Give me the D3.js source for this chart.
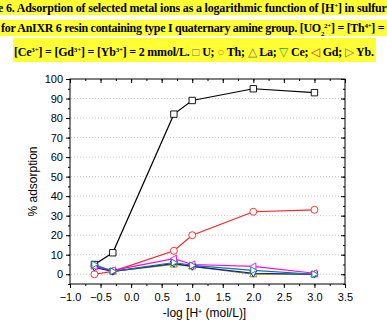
<!DOCTYPE html>
<html>
<head>
<meta charset="utf-8">
<script src="https://cdn.jsdelivr.net/npm/d3@7"></script>
<style>
  body { margin: 0; background: #fff; }
  svg { display: block; }
</style>
</head>
<body>
<div id="container"></div>
<script>
const width = 387,
      height = 322,
      margin = { top: 79, bottom: 38, left: 70, right: 42 };

// data
const logH = [-0.6, -0.3, 0.7, 1.0, 2.0, 3.0];
const seriesNames = ["U", "Th", "La", "Ce", "Gd", "Yb"];
const U  = [5, 11, 82, 89, 95, 93];
const Th = [0, 1.5, 12, 20, 32, 33];
const La = [4, 1.5, 5, 4, 0, 0];
const Ce = [3.5, 1.5, 5.5, 4, 0.5, 0];
const Gd = [4, 2, 8, 5, 4, 0.5];
const Yb = [5, 1.5, 6, 4.5, 2, 0];
const xTicks = [-1.0, -0.5, 0.0, 0.5, 1.0, 1.5, 2.0, 2.5, 3.0, 3.5];
const yTicks = [0, 10, 20, 30, 40, 50, 60, 70, 80, 90, 100];

const series = [
  { name: "U",  values: U,  color: "#000000", symbol: "square" },
  { name: "Th", values: Th, color: "#ff2020", symbol: "circle" },
  { name: "La", values: La, color: "#808000", symbol: "up" },
  { name: "Ce", values: Ce, color: "#1010c0", symbol: "down" },
  { name: "Gd", values: Gd, color: "#ff00ff", symbol: "left" },
  { name: "Yb", values: Yb, color: "#008080", symbol: "right" }
];

const svg = d3.select("#container").append("svg")
    .attr("width", width)
    .attr("height", height);

// caption lines with yellow highlight
const caption = svg.append("g")
    .attr("font-family", "'Liberation Serif', 'Times New Roman', serif")
    .attr("font-weight", "bold")
    .attr("font-size", 12);

caption.append("rect").attr("x", 0).attr("y", 0).attr("width", 387).attr("height", 15).attr("fill", "#ffff33");
caption.append("rect").attr("x", 0).attr("y", 20).attr("width", 387).attr("height", 16).attr("fill", "#ffff33");
caption.append("rect").attr("x", 13).attr("y", 38).attr("width", 363).attr("height", 24).attr("fill", "#ffff33");

function sup(t, s) {
  t.append("tspan").attr("baseline-shift", "super").attr("font-size", 7).text(s);
}
function sub(t, s) {
  t.append("tspan").attr("baseline-shift", "sub").attr("font-size", 7).text(s);
}

var l1 = caption.append("text").attr("x", -2).attr("y", 11.5)
    .attr("textLength", 392).attr("lengthAdjust", "spacing");
l1.append("tspan").text("e 6. Adsorption of selected metal ions as a logarithmic function of [H");
sup(l1, "+");
l1.append("tspan").text("] in sulfuri");

var l2 = caption.append("text").attr("x", 1).attr("y", 32)
    .attr("textLength", 390).attr("lengthAdjust", "spacing");
l2.append("tspan").text("for AnIXR 6 resin containing type I quaternary amine group. [UO");
sub(l2, "2");
sup(l2, "2+");
l2.append("tspan").text("] = [Th");
sup(l2, "4+");
l2.append("tspan").text("] = [");

var l3 = caption.append("text").attr("x", 14).attr("y", 56)
    .attr("textLength", 360).attr("lengthAdjust", "spacing");
l3.append("tspan").text("[Ce");
sup(l3, "3+");
l3.append("tspan").text("] = [Gd");
sup(l3, "3+");
l3.append("tspan").text("] = [Yb");
sup(l3, "3+");
l3.append("tspan").text("] = 2 mmol/L. ");
l3.append("tspan").attr("fill", "#777").attr("font-weight", "normal").text("\u25A1");
l3.append("tspan").text(" U; ");
l3.append("tspan").attr("fill", "#f08020").attr("font-weight", "normal").text("\u25CB");
l3.append("tspan").text(" Th; ");
l3.append("tspan").attr("fill", "#777").attr("font-weight", "normal").text("\u25B3");
l3.append("tspan").text(" La; ");
l3.append("tspan").attr("fill", "#30a030").attr("font-weight", "normal").text("\u25BD");
l3.append("tspan").text(" Ce; ");
l3.append("tspan").attr("fill", "#e02040").attr("font-weight", "normal").text("\u25C1");
l3.append("tspan").text(" Gd; ");
l3.append("tspan").attr("fill", "#777").attr("font-weight", "normal").text("\u25B7");
l3.append("tspan").text(" Yb.");

// scales
var x = d3.scaleLinear()
    .domain([-1.0, 3.5])
    .range([margin.left, width - margin.right]);

var y = d3.scaleLinear()
    .domain([-5, 100])
    .range([height - margin.bottom, margin.top]);

// grid
svg.append("g")
    .selectAll("line")
    .data(yTicks.filter(d => d < 100))
    .enter().append("line")
    .attr("x1", x(-1.0) + 1)
    .attr("x2", x(3.5) - 1)
    .attr("y1", d => y(d))
    .attr("y2", d => y(d))
    .attr("stroke", "#c8c8c8")
    .attr("stroke-width", 1)
    .attr("stroke-dasharray", "1,2");

const minorX = d3.range(-1.0, 3.51, 0.25);
const minorY = d3.range(-5, 100.1, 5);

function styleAxis(g) {
  g.select(".domain").remove();
  g.selectAll("line").attr("stroke", "#000");
  g.selectAll("text")
      .attr("font-family", "'Liberation Sans', Arial, sans-serif")
      .attr("font-size", 11)
      .attr("fill", "#000");
}

// bottom axis
svg.append("g")
    .attr("transform", `translate(0, ${y(-5)})`)
    .call(d3.axisBottom(x).tickValues(minorX).tickSize(2).tickFormat(""))
    .call(styleAxis);
svg.append("g")
    .attr("transform", `translate(0, ${y(-5)})`)
    .call(d3.axisBottom(x).tickValues(xTicks).tickSize(4).tickPadding(5).tickFormat(d3.format(".1f")))
    .call(styleAxis);

// top axis (inward ticks)
svg.append("g")
    .attr("transform", `translate(0, ${y(100)})`)
    .call(d3.axisBottom(x).tickValues(minorX).tickSize(2).tickFormat(""))
    .call(styleAxis);
svg.append("g")
    .attr("transform", `translate(0, ${y(100)})`)
    .call(d3.axisBottom(x).tickValues(xTicks).tickSize(4).tickFormat(""))
    .call(styleAxis);

// left axis
svg.append("g")
    .attr("transform", `translate(${x(-1.0)}, 0)`)
    .call(d3.axisLeft(y).tickValues(minorY).tickSize(2).tickFormat(""))
    .call(styleAxis);
svg.append("g")
    .attr("transform", `translate(${x(-1.0)}, 0)`)
    .call(d3.axisLeft(y).tickValues(yTicks).tickSize(4).tickPadding(3))
    .call(styleAxis);

// right axis (inward ticks)
svg.append("g")
    .attr("transform", `translate(${x(3.5)}, 0)`)
    .call(d3.axisLeft(y).tickValues(minorY).tickSize(2).tickFormat(""))
    .call(styleAxis);
svg.append("g")
    .attr("transform", `translate(${x(3.5)}, 0)`)
    .call(d3.axisLeft(y).tickValues(yTicks).tickSize(4).tickFormat(""))
    .call(styleAxis);

// frame
svg.append("rect")
    .attr("x", x(-1.0))
    .attr("y", y(100))
    .attr("width", x(3.5) - x(-1.0))
    .attr("height", y(-5) - y(100))
    .attr("fill", "none")
    .attr("stroke", "#000")
    .attr("stroke-width", 1);

// axis titles
svg.append("text")
    .attr("transform", `translate(${37}, ${y(47.5)}) rotate(-90)`)
    .attr("text-anchor", "middle")
    .attr("font-family", "'Liberation Sans', Arial, sans-serif")
    .attr("font-size", 12)
    .text("% adsorption");

var xt = svg.append("text")
    .attr("x", (x(-1.0) + x(3.5)) / 2 - 3)
    .attr("y", 317)
    .attr("text-anchor", "middle")
    .attr("font-family", "'Liberation Sans', Arial, sans-serif")
    .attr("font-size", 12);
xt.append("tspan").text("-log [H");
xt.append("tspan").attr("baseline-shift", "super").attr("font-size", 7).text("+");
xt.append("tspan").text(" (mol/L)]");

// lines
var line = d3.line()
    .x(function(d, i) { return x(logH[i]); })
    .y(function(d) { return y(d); });

svg.append("g")
    .selectAll("path")
    .data(series)
    .enter().append("path")
    .attr("d", function(s) { return line(s.values); })
    .attr("fill", "none")
    .attr("stroke", function(s) { return s.color; })
    .attr("stroke-width", 1.2);

// markers
function symbolPath(type, r) {
  if (type === "square") return `M${-r},${-r}H${r}V${r}H${-r}Z`;
  if (type === "circle") return `M${-r},0A${r},${r} 0 1,0 ${r},0A${r},${r} 0 1,0 ${-r},0Z`;
  if (type === "up") return `M0,${-r * 1.2}L${r * 1.1},${r * 0.8}L${-r * 1.1},${r * 0.8}Z`;
  if (type === "down") return `M0,${r * 1.2}L${r * 1.1},${-r * 0.8}L${-r * 1.1},${-r * 0.8}Z`;
  if (type === "left") return `M${-r * 1.2},0L${r * 0.8},${-r * 1.1}L${r * 0.8},${r * 1.1}Z`;
  return `M${r * 1.2},0L${-r * 0.8},${-r * 1.1}L${-r * 0.8},${r * 1.1}Z`;
}

series.forEach(function(s) {
  svg.append("g")
      .selectAll("path")
      .data(s.values)
      .enter().append("path")
      .attr("transform", function(d, i) { return `translate(${x(logH[i])}, ${y(d)})`; })
      .attr("d", symbolPath(s.symbol, s.symbol === "circle" ? 3.5 : 3.2))
      .attr("fill", "#fff")
      .attr("stroke", s.color)
      .attr("stroke-width", 0.9);
});
</script>
</body>
</html>
